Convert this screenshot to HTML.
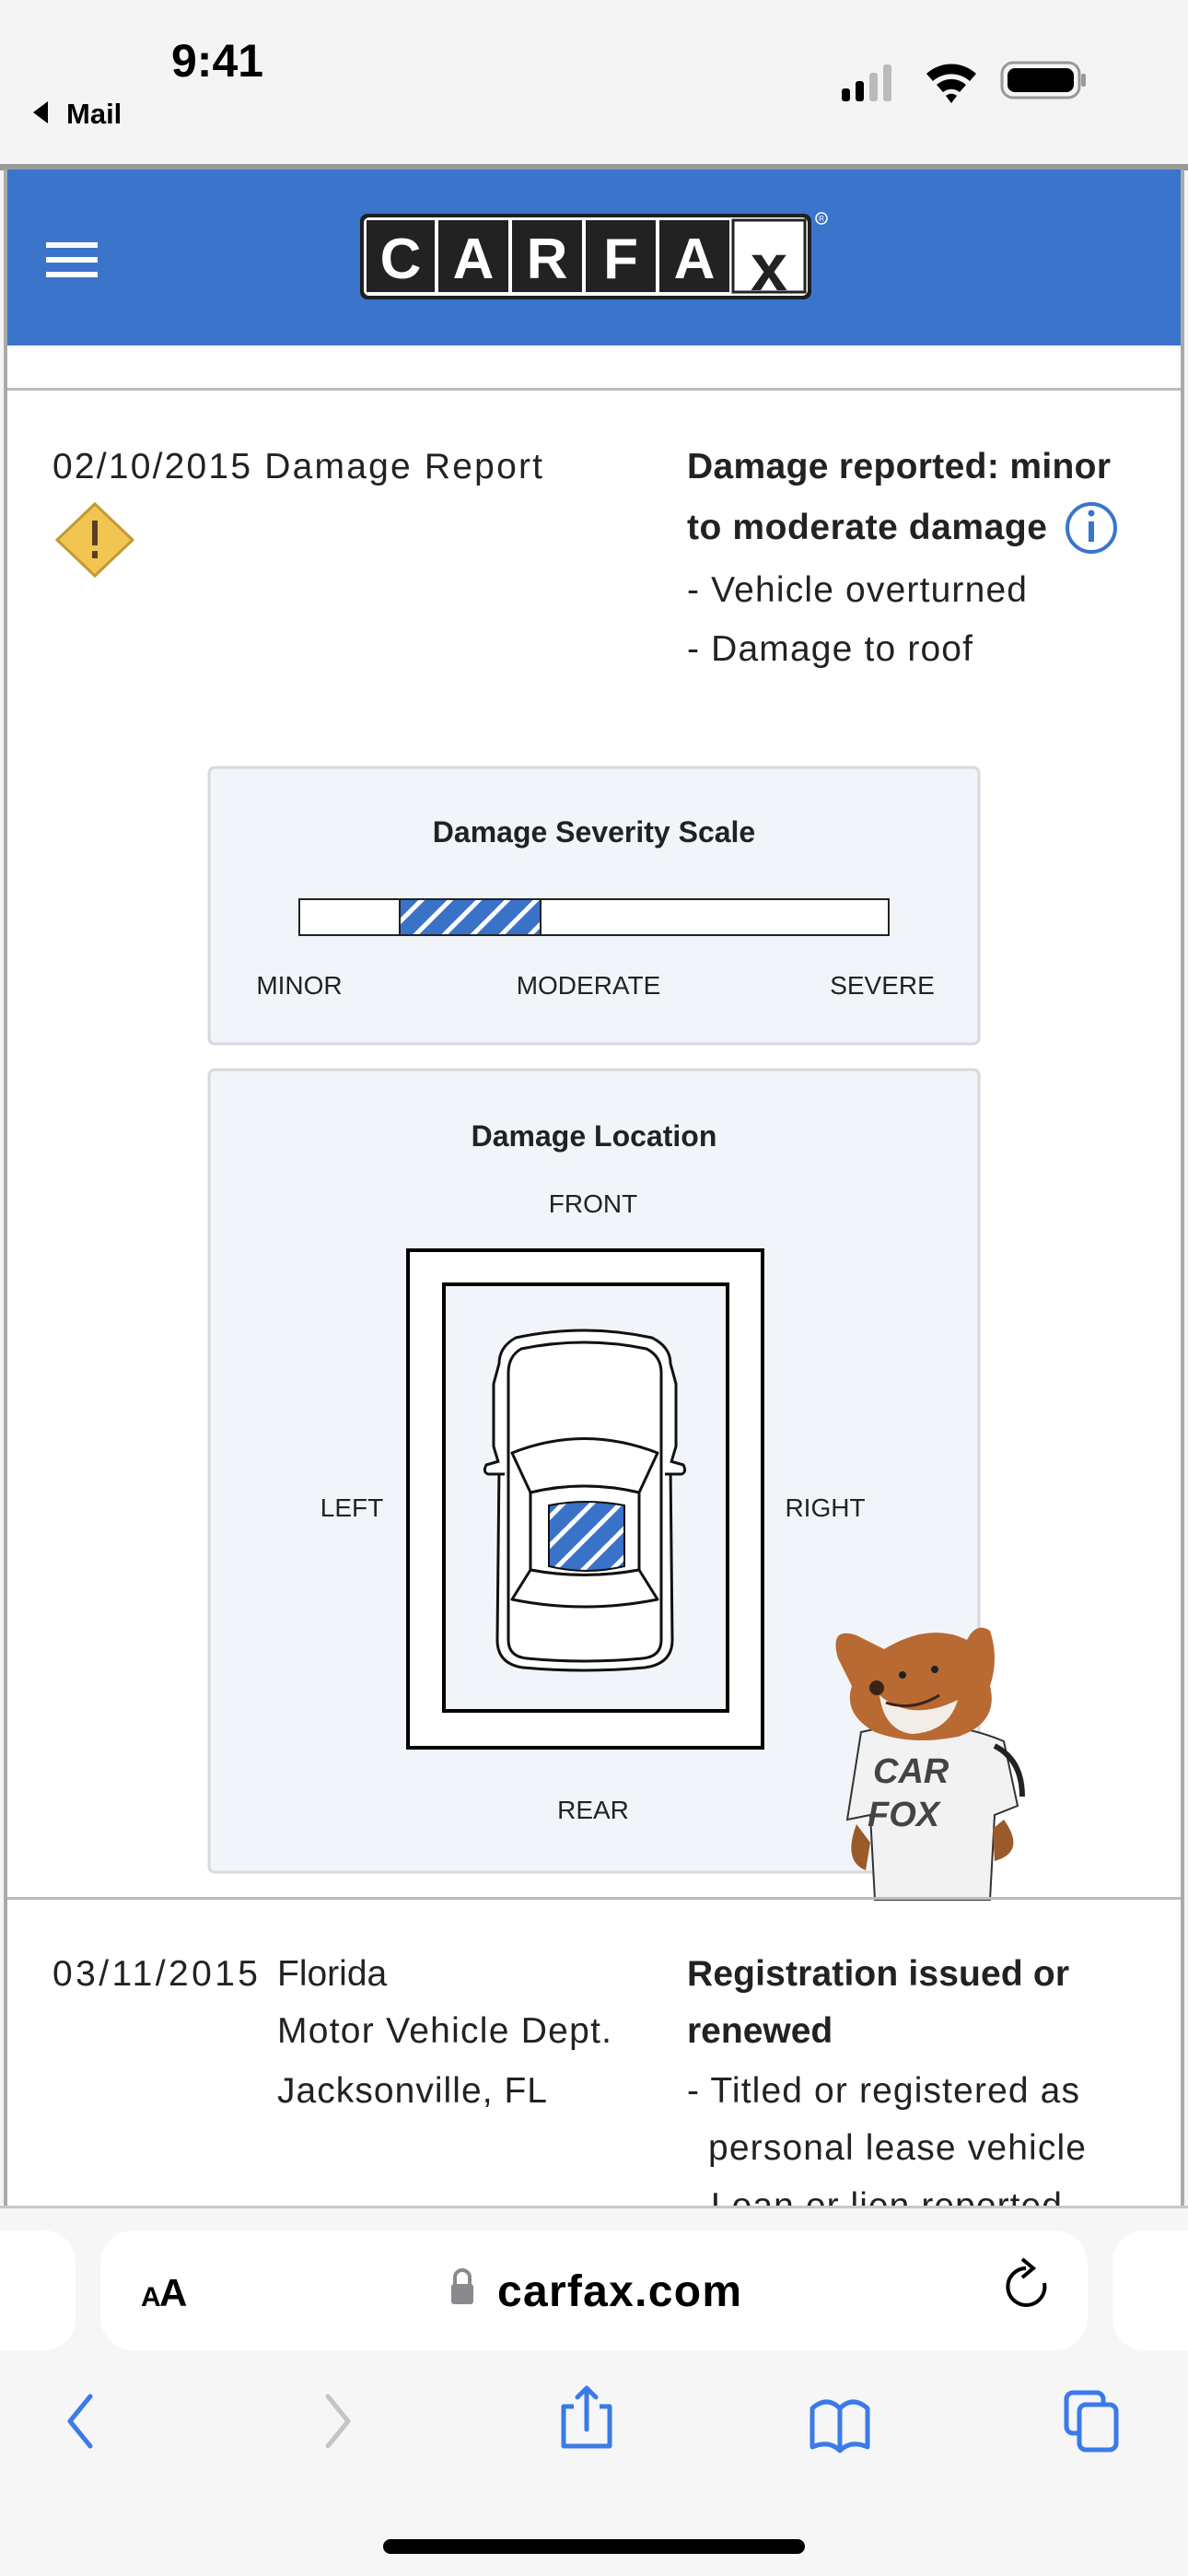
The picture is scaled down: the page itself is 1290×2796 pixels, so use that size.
<!DOCTYPE html>
<html><head><meta charset="utf-8">
<style>
html,body{margin:0;padding:0;background:#f4f4f4;}
svg{display:block;}
text{font-family:"Liberation Sans",sans-serif;}
</style></head>
<body>
<svg width="1290" height="2796" viewBox="0 0 1290 2796" xmlns="http://www.w3.org/2000/svg">
<defs>
<pattern id="hatch" patternUnits="userSpaceOnUse" width="22" height="22" patternTransform="rotate(45)">
<rect width="22" height="22" fill="#3a72c8"/>
<rect x="0" y="0" width="5" height="22" fill="#fff"/>
</pattern>
<clipPath id="page"><rect x="0" y="184" width="1290" height="2210"/></clipPath>
</defs>
<!-- status bar -->
<rect x="0" y="0" width="1290" height="180" fill="#f4f4f4"/>
<text x="186" y="83" font-size="50" font-weight="bold" fill="#000">9:41</text>
<path d="M36 122 L52 110 L52 134 Z" fill="#000"/>
<text x="72" y="134" font-size="31" font-weight="bold" fill="#000">Mail</text>
<rect x="914" y="96" width="9" height="14" rx="3" fill="#000"/>
<rect x="929" y="88" width="9" height="22" rx="3" fill="#000"/>
<rect x="944" y="79" width="9" height="31" rx="3" fill="#bbb"/>
<rect x="959" y="70" width="9" height="40" rx="3" fill="#bbb"/>
<path d="M1006 80 A40 40 0 0 1 1060 80 L1053 88 A30 30 0 0 0 1013 88 Z" fill="#000"/>
<path d="M1017 92 A24 24 0 0 1 1049 92 L1042 100 A14 14 0 0 0 1024 100 Z" fill="#000"/>
<path d="M1027 104 A9 9 0 0 1 1039 104 L1033 112 Z" fill="#000"/>
<rect x="1088" y="68" width="84" height="38" rx="12" fill="none" stroke="#999" stroke-width="3"/>
<rect x="1094" y="74" width="72" height="26" rx="8" fill="#000"/>
<rect x="1174" y="80" width="5" height="14" rx="2" fill="#999"/>
<!-- page frame -->
<rect x="0" y="178" width="1290" height="7" fill="#9a9a9a"/>
<rect x="4" y="184" width="1282" height="2212" fill="#fff"/>
<rect x="4" y="184" width="4" height="2212" fill="#aaa"/>
<rect x="1282" y="184" width="4" height="2212" fill="#aaa"/>
<rect x="8" y="184" width="1274" height="191" fill="#3a75cb"/>
<!-- hamburger -->
<rect x="50" y="263" width="56" height="6" fill="#fff"/>
<rect x="50" y="279" width="56" height="6" fill="#fff"/>
<rect x="50" y="295" width="56" height="6" fill="#fff"/>
<!-- logo -->
<rect x="391" y="232" width="490" height="93" rx="8" fill="#1f1f1f"/>
<rect x="395" y="236" width="482" height="85" rx="6" fill="#fff"/>
<g font-size="62" font-weight="bold" fill="#fff" text-anchor="middle">
<rect x="398" y="239" width="74" height="78" fill="#222"/><text x="435" y="302">C</text>
<rect x="476" y="239" width="76" height="78" fill="#222"/><text x="514" y="302">A</text>
<rect x="556" y="239" width="76" height="78" fill="#222"/><text x="594" y="302">R</text>
<rect x="636" y="239" width="76" height="78" fill="#222"/><text x="674" y="302">F</text>
<rect x="716" y="239" width="76" height="78" fill="#222"/><text x="754" y="302">A</text>
</g>
<rect x="796" y="239" width="78" height="78" fill="#fff" stroke="#222" stroke-width="3"/>
<text x="835" y="315" font-size="72" font-weight="bold" fill="#222" text-anchor="middle">x</text>
<circle cx="892" cy="237" r="6" fill="none" stroke="#fff" stroke-width="1.5"/>
<text x="892" y="240" font-size="8" fill="#fff" text-anchor="middle">R</text>

<g clip-path="url(#page)">
<rect x="8" y="421" width="1274" height="3" fill="#bbb"/>
<!-- entry 1 -->
<text x="57" y="519" font-size="39" fill="#222" textLength="532">02/10/2015  Damage Report</text>
<path d="M103 547 L144 586 L103 625 L62 586 Z" fill="#f2c553" stroke="#c29a32" stroke-width="3"/>
<rect x="100" y="565" width="6" height="27" fill="#5a4020"/>
<rect x="100" y="598" width="6" height="8" fill="#5a4020"/>
<g font-size="39" fill="#222">
<text x="746" y="519" font-weight="bold" textLength="460">Damage reported: minor</text>
<text x="746" y="585" font-weight="bold" textLength="391">to moderate damage</text>
<text x="746" y="653" textLength="369">- Vehicle overturned</text>
<text x="746" y="717" textLength="310">- Damage to roof</text>
</g>
<circle cx="1185" cy="573" r="26" fill="none" stroke="#3a75cb" stroke-width="4"/>
<rect x="1182" y="566" width="6" height="22" fill="#3a75cb"/>
<circle cx="1185" cy="557" r="3.5" fill="#3a75cb"/>
<!-- severity box -->
<rect x="227" y="833" width="836" height="300" rx="6" fill="#f1f5fa" stroke="#d6d9dd" stroke-width="3"/>
<text x="645" y="914" font-size="32" font-weight="bold" fill="#222" text-anchor="middle">Damage Severity Scale</text>
<rect x="325" y="976" width="640" height="39" fill="#fff" stroke="#222" stroke-width="2"/>
<rect x="434" y="976" width="153" height="39" fill="url(#hatch)" stroke="#222" stroke-width="2"/>
<g font-size="28" fill="#222" text-anchor="middle">
<text x="325" y="1079">MINOR</text>
<text x="639" y="1079">MODERATE</text>
<text x="958" y="1079">SEVERE</text>
</g>
<!-- location box -->
<rect x="227" y="1161" width="836" height="871" rx="6" fill="#f1f5fa" stroke="#d6d9dd" stroke-width="3"/>
<text x="645" y="1244" font-size="32" font-weight="bold" fill="#222" text-anchor="middle">Damage Location</text>
<g font-size="28" fill="#222" text-anchor="middle">
<text x="644" y="1316">FRONT</text>
<text x="382" y="1646">LEFT</text>
<text x="896" y="1646">RIGHT</text>
<text x="644" y="1974">REAR</text>
</g>
<rect x="443" y="1357" width="385" height="540" fill="#fff" stroke="#000" stroke-width="4"/>
<rect x="482" y="1394" width="308" height="463" fill="#f1f5fa" stroke="#000" stroke-width="4"/>
<!-- car -->
<g fill="#fff" stroke="#111" stroke-width="3" stroke-linejoin="round">
<path d="M560 1452 Q634 1436 708 1452 Q728 1462 728 1480 L734 1502 L734 1570 L728 1590 L730 1780 Q730 1806 700 1810 Q634 1816 568 1810 Q540 1806 540 1780 L542 1590 L536 1570 L536 1502 L542 1480 Q542 1462 560 1452 Z"/>
<path d="M566 1464 Q634 1450 702 1464 Q718 1472 718 1490 L718 1780 Q718 1798 698 1800 Q634 1806 572 1800 Q552 1798 552 1780 L552 1490 Q552 1472 566 1464 Z"/>
<path d="M556 1577 Q634 1546 714 1577 L694 1620 Q634 1606 576 1620 Z"/>
<path d="M576 1620 Q634 1606 694 1620 L694 1704 Q634 1715 576 1704 Z"/>
<path d="M576 1704 Q634 1715 694 1704 L714 1736 Q634 1752 556 1736 Z"/>
<path d="M542 1586 L528 1590 Q524 1598 530 1600 L548 1600"/>
<path d="M728 1586 L742 1590 Q746 1598 740 1600 L722 1600"/>
</g>
<path d="M596 1634 Q637 1626 678 1634 L678 1700 Q637 1710 596 1700 Z" fill="url(#hatch)" stroke="#111" stroke-width="2"/>
<!-- fox -->
<g>
<path d="M935 1880 Q1020 1860 1090 1890 L1105 1960 L1080 1970 L1075 2062 L950 2062 L945 1970 L920 1975 Z" fill="#f2f2f2" stroke="#333" stroke-width="2"/>
<path d="M1080 1895 Q1110 1910 1110 1950" fill="none" stroke="#222" stroke-width="6"/>
<text x="948" y="1935" font-size="38" font-weight="bold" font-style="italic" fill="#444">CAR</text>
<text x="942" y="1982" font-size="38" font-weight="bold" font-style="italic" fill="#444">FOX</text>
<path d="M930 1980 Q915 2020 940 2030 L945 2000 Z" fill="#9a5a2a"/>
<path d="M1090 1975 Q1115 2010 1080 2020 L1078 1985 Z" fill="#9a5a2a"/>
<path d="M910 1800 Q900 1765 930 1775 L960 1790 Q1010 1760 1050 1780 Q1060 1760 1075 1770 Q1085 1800 1075 1830 Q1085 1870 1040 1885 Q990 1895 950 1880 Q915 1860 925 1830 Z" fill="#b86a32"/>
<path d="M955 1840 Q990 1870 1040 1845 Q1030 1880 990 1882 Q960 1878 955 1840 Z" fill="#f2ede6"/>
<circle cx="952" cy="1832" r="8" fill="#3a2418"/>
<circle cx="980" cy="1818" r="4" fill="#222"/>
<circle cx="1015" cy="1812" r="4" fill="#222"/>
<path d="M962 1848 Q990 1858 1020 1840" fill="none" stroke="#3a2418" stroke-width="3"/>
</g>
<rect x="8" y="2059" width="1274" height="3" fill="#bbb"/>
<!-- entry 2 -->
<g font-size="39" fill="#222">
<text x="57" y="2155" textLength="223">03/11/2015</text>
<text x="301" y="2155">Florida</text>
<text x="301" y="2217" textLength="363">Motor Vehicle Dept.</text>
<text x="301" y="2282" textLength="293">Jacksonville, FL</text>
<text x="746" y="2155" font-weight="bold" textLength="415">Registration issued or</text>
<text x="746" y="2217" font-weight="bold">renewed</text>
<text x="746" y="2282" textLength="426">- Titled or registered as</text>
<text x="769" y="2344" textLength="410">personal lease vehicle</text>
<text x="746" y="2407" textLength="407">- Loan or lien reported</text>
</g>
</g>
<!-- bottom bar -->
<rect x="0" y="2394" width="1290" height="402" fill="#f6f6f7"/>
<rect x="0" y="2394" width="1290" height="3" fill="#c8c8c8"/>
<rect x="-40" y="2421" width="122" height="130" rx="34" fill="#fff"/>
<rect x="109" y="2421" width="1072" height="130" rx="36" fill="#fff"/>
<rect x="1208" y="2421" width="140" height="130" rx="34" fill="#fff"/>
<text x="153" y="2503" font-size="30" font-weight="bold" fill="#000">A</text>
<text x="173" y="2503" font-size="42" font-weight="bold" fill="#000">A</text>
<rect x="490" y="2479" width="24" height="22" rx="3" fill="#8a8a8e"/>
<path d="M494 2480 L494 2472 A8 8 0 0 1 510 2472 L510 2480" fill="none" stroke="#8a8a8e" stroke-width="4"/>
<text x="540" y="2503" font-size="48" font-weight="bold" fill="#000" textLength="265">carfax.com</text>
<path d="M1134 2478 A20 20 0 1 1 1114 2462" fill="none" stroke="#000" stroke-width="4"/>
<path d="M1110 2452 L1122 2462 L1110 2472" fill="none" stroke="#000" stroke-width="4"/>
<path d="M98 2601 L76 2628 L98 2655" fill="none" stroke="#3b7ae8" stroke-width="5" stroke-linecap="round" stroke-linejoin="round"/>
<path d="M356 2601 L378 2628 L356 2655" fill="none" stroke="#c4c4c6" stroke-width="5" stroke-linecap="round" stroke-linejoin="round"/>
<path d="M623 2612 L612 2612 L612 2655 L662 2655 L662 2612 L651 2612" fill="none" stroke="#3b7ae8" stroke-width="5" stroke-linejoin="round"/>
<path d="M637 2637 L637 2592 M627 2602 L637 2592 L647 2602" fill="none" stroke="#3b7ae8" stroke-width="5" stroke-linecap="round" stroke-linejoin="round"/>
<path d="M912 2660 Q900 2648 882 2656 L882 2614 Q898 2600 912 2614 Q926 2600 942 2614 L942 2656 Q924 2648 912 2660 Z M912 2614 L912 2658" fill="none" stroke="#3b7ae8" stroke-width="5" stroke-linejoin="round"/>
<rect x="1158" y="2597" width="40" height="44" rx="7" fill="none" stroke="#3b7ae8" stroke-width="5"/>
<rect x="1172" y="2610" width="40" height="49" rx="7" fill="#f6f6f7" stroke="#3b7ae8" stroke-width="5"/>
<rect x="416" y="2756" width="458" height="16" rx="8" fill="#000"/>
</svg>
</body></html>
